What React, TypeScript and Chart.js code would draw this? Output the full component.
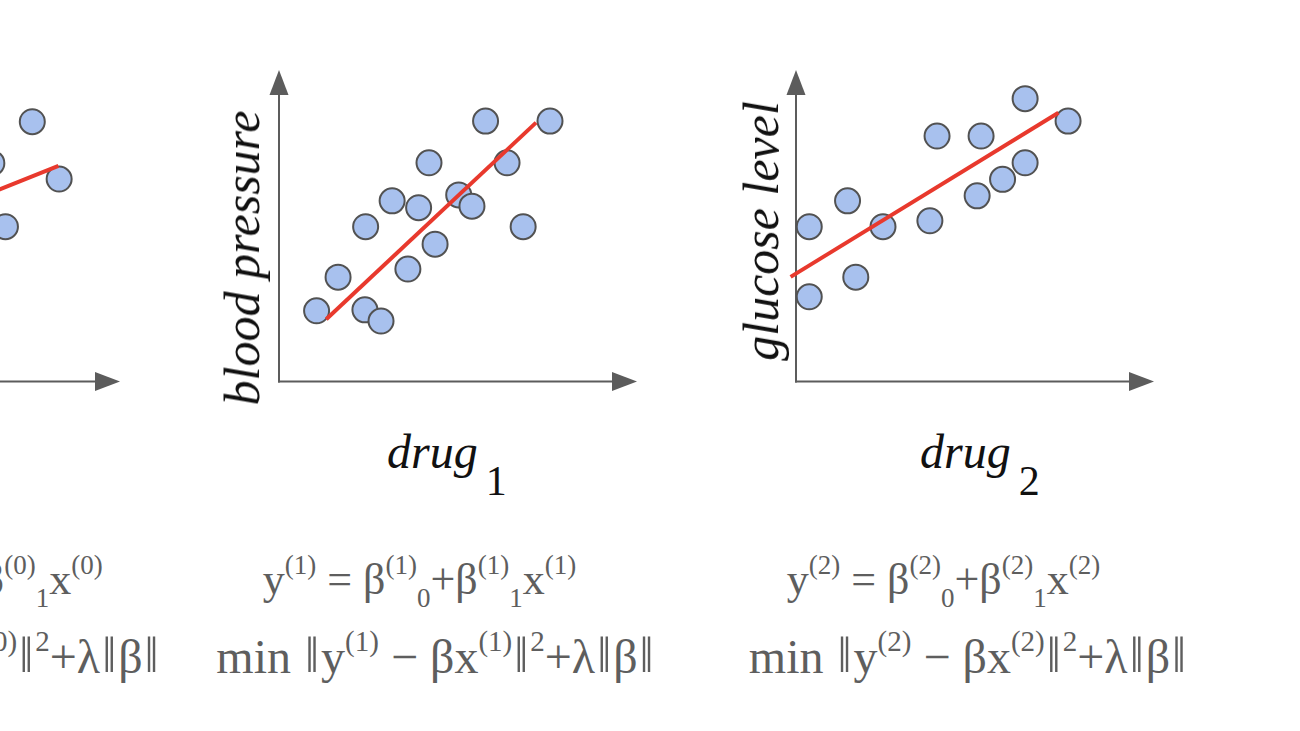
import React, { useEffect, useRef } from "react";
import { Chart, registerables } from "chart.js";

Chart.register(...registerables);

// ---- data (arbitrary units 0..10 on both axes of each panel) ----
const panel0X = [7.55, 6.42, 8.3, 6.8];
const panel0Y = [8.34, 7.01, 6.5, 4.97];
const panel0FitX = [1.3, 8.28];
const panel0FitY = [3.71, 6.92];

const panel1X = [1.05, 1.65, 2.42, 2.4, 2.85, 3.16, 3.6, 3.9, 4.19, 4.36, 5.02, 5.39, 5.77, 6.37, 6.82, 7.57];
const panel1Y = [2.27, 3.35, 4.97, 2.3, 1.94, 5.8, 3.61, 5.58, 7.02, 4.41, 5.99, 5.63, 8.36, 7.02, 4.97, 8.36];
const panel1FitX = [1.32, 7.18];
const panel1FitY = [2.0, 8.31];

const panel2X = [0.37, 0.37, 1.44, 1.67, 2.43, 3.74, 3.94, 5.06, 5.17, 5.77, 6.4, 6.4, 7.6];
const panel2Y = [4.97, 2.72, 5.8, 3.35, 4.97, 5.16, 7.88, 5.96, 7.88, 6.49, 7.02, 9.08, 8.36];
const panel2FitX = [-0.15, 7.33];
const panel2FitY = [3.36, 8.63];

const yLabels = ["", "blood pressure", "glucose level"];
const xLabelBase = ["", "drug", "drug"];
const xLabelSub = ["", "1", "2"];
const eqIndex = ["0", "1", "2"];

// ---- layout constants ----
const panelOrigins = [-238, 279, 796];
const eqCenter1 = [-54, 419.5, 943.5];
const eqCenter2 = [-59, 436, 968.5];

const toPts = (xs: number[], ys: number[]) => xs.map((x, i) => ({ x, y: ys[i] }));

const axesArrowPlugin = {
  id: "axesArrow",
  beforeDatasetsDraw(chart: any) {
    const { ctx, chartArea } = chart;
    const { left, right, top, bottom } = chartArea;
    const col = "#5c5c5c";
    ctx.save();
    ctx.strokeStyle = col;
    ctx.fillStyle = col;
    ctx.lineWidth = 2;
    ctx.beginPath();
    ctx.moveTo(left, bottom + 1);
    ctx.lineTo(left, top + 24);
    ctx.stroke();
    ctx.beginPath();
    ctx.moveTo(left - 1, bottom);
    ctx.lineTo(right - 24, bottom);
    ctx.stroke();
    ctx.beginPath();
    ctx.moveTo(left, top);
    ctx.lineTo(left - 9.5, top + 25);
    ctx.lineTo(left + 9.5, top + 25);
    ctx.closePath();
    ctx.fill();
    ctx.beginPath();
    ctx.moveTo(right, bottom);
    ctx.lineTo(right - 25, bottom - 9.5);
    ctx.lineTo(right - 25, bottom + 9.5);
    ctx.closePath();
    ctx.fill();
    ctx.restore();
  },
};

const CW = 420;
const CH = 380;

function Panel({ origin, points, fit }: { origin: number; points: { x: number; y: number }[]; fit: { x: number; y: number }[] }) {
  const ref = useRef<HTMLCanvasElement>(null);
  useEffect(() => {
    const chart = new Chart(ref.current as HTMLCanvasElement, {
      type: "scatter",
      data: {
        datasets: [
          {
            data: fit,
            showLine: true,
            borderColor: "#e8392d",
            borderWidth: 4,
            pointRadius: 0,
            pointHoverRadius: 0,
            order: 0,
            clip: false,
          } as any,
          {
            data: points,
            pointRadius: 12.5,
            pointHoverRadius: 12.5,
            backgroundColor: "#a8c1ee",
            borderColor: "#525252",
            borderWidth: 2,
            order: 1,
            clip: false,
          } as any,
        ],
      },
      options: {
        responsive: false,
        animation: false,
        events: [],
        layout: { padding: { left: 40, top: 30, right: 22, bottom: 38.5 } },
        scales: {
          x: { type: "linear", min: 0, max: 10, display: false },
          y: { type: "linear", min: 0, max: 10, display: false },
        },
        plugins: { legend: { display: false }, tooltip: { enabled: false } },
      },
      plugins: [axesArrowPlugin],
    });
    return () => chart.destroy();
  }, []);
  return (
    <canvas
      ref={ref}
      width={CW}
      height={CH}
      style={{ position: "absolute", left: origin - 40, top: 40, width: CW, height: CH }}
    />
  );
}

const serif = '"Liberation Serif", "DejaVu Serif", serif';

function Sup({ children, size = 27, raise = 20 }: { children: React.ReactNode; size?: number; raise?: number }) {
  return <span style={{ fontSize: size, position: "relative", top: -raise }}>{children}</span>;
}
function Sub({ children }: { children: React.ReactNode }) {
  return <span style={{ fontSize: 27, position: "relative", top: 13 }}>{children}</span>;
}
function Bars() {
  return (
    <span style={{ fontSize: 50, margin: "0 2px", position: "relative", top: -1 }}>‖</span>
  );
}

function Equations({ k }: { k: number }) {
  const i = eqIndex[k];
  const lineStyle: React.CSSProperties = {
    position: "absolute",
    width: 700,
    textAlign: "center",
    whiteSpace: "nowrap",
    fontFamily: serif,
    lineHeight: 1,
    color: "#5e5e5e",
  };
  return (
    <>
      <div style={{ ...lineStyle, fontSize: 44, left: eqCenter1[k] - 350, top: 558 }}>
        y<Sup>({i})</Sup> = β<Sup>({i})</Sup>
        <Sub>0</Sub>+β<Sup>({i})</Sup>
        <Sub>1</Sub>x<Sup>({i})</Sup>
      </div>
      <div style={{ ...lineStyle, fontSize: 48, left: eqCenter2[k] - 350, top: 631 }}>
        min <Bars />y<Sup size={29} raise={22}>({i})</Sup> − βx<Sup size={29} raise={22}>({i})</Sup>
        <Bars />
        <Sup size={29} raise={22}>2</Sup>+λ<Bars />β<Bars />
      </div>
    </>
  );
}

function Labels({ k }: { k: number }) {
  const o = panelOrigins[k];
  const yCenters = [0, 258, 231];
  const yCx = [0, 242, 761];
  return (
    <>
      <div
        style={{
          position: "absolute",
          left: yCx[k],
          top: yCenters[k],
          transform: "translate(-50%, -50%) rotate(-90deg)",
          fontFamily: serif,
          fontStyle: "italic",
          fontSize: 50,
          lineHeight: 1,
          whiteSpace: "nowrap",
          color: "#111",
        }}
      >
        {yLabels[k]}
      </div>
      <div
        style={{
          position: "absolute",
          left: o + 108 + (k === 2 ? 16 : 0),
          top: 428,
          fontFamily: serif,
          fontSize: 48,
          lineHeight: 1,
          whiteSpace: "nowrap",
          color: "#111",
        }}
      >
        <span style={{ fontStyle: "italic" }}>{xLabelBase[k]}</span>
        <span style={{ fontSize: 42, position: "relative", top: 27, marginLeft: 8 }}>{xLabelSub[k]}</span>
      </div>
    </>
  );
}

export default function App() {
  const panels = [
    { points: toPts(panel0X, panel0Y), fit: toPts(panel0FitX, panel0FitY) },
    { points: toPts(panel1X, panel1Y), fit: toPts(panel1FitX, panel1FitY) },
    { points: toPts(panel2X, panel2Y), fit: toPts(panel2FitX, panel2FitY) },
  ];
  return (
    <div
      style={{
        position: "fixed",
        left: 0,
        top: 0,
        width: 1300,
        height: 731,
        overflow: "hidden",
        background: "#fff",
      }}
    >
      {panels.map((p, k) => (
        <Panel key={k} origin={panelOrigins[k]} points={p.points} fit={p.fit} />
      ))}
      {[1, 2].map((k) => (
        <Labels key={"l" + k} k={k} />
      ))}
      {[0, 1, 2].map((k) => (
        <Equations key={"e" + k} k={k} />
      ))}
    </div>
  );
}
